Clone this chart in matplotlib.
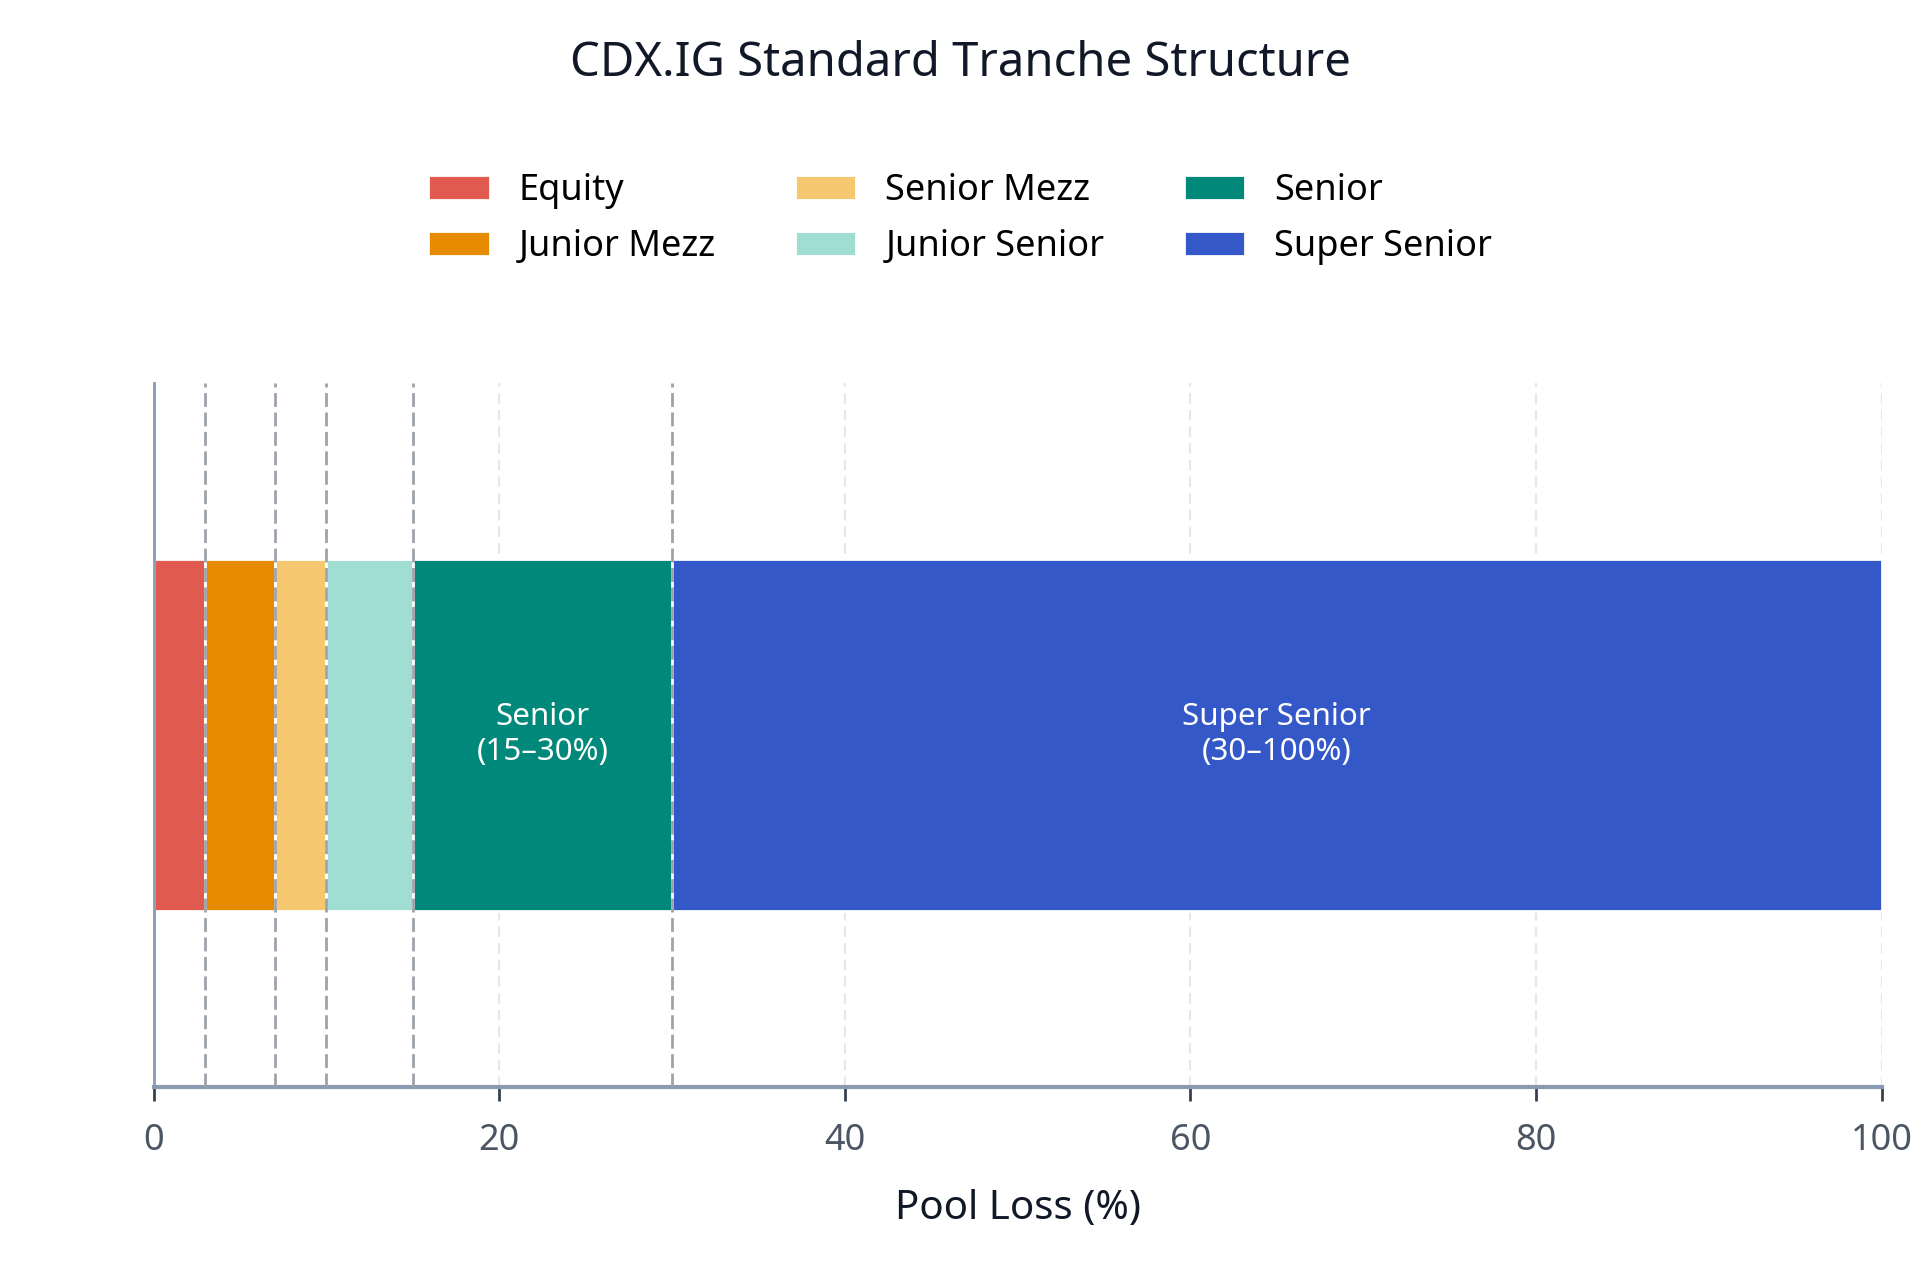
import matplotlib
matplotlib.use("Agg")
import matplotlib.pyplot as plt

# tranche data (attachment / detachment in % of pool loss)
tranches = ["Equity", "Junior Mezz", "Senior Mezz", "Junior Senior", "Senior", "Super Senior"]
attach = [0, 3, 7, 10, 15, 30]
detach = [3, 7, 10, 15, 30, 100]
colors = ["#E05A50", "#E68A00", "#F5C870", "#A0DDD2", "#00897A", "#3558C8"]
boundaries = [3, 7, 10, 15, 30]
labelled = {"Senior": "Senior\n(15\u201330%)", "Super Senior": "Super Senior\n(30\u2013100%)"}
xticks = [0, 20, 40, 60, 80, 100]

plt.rcParams["font.family"] = ["Noto Sans", "DejaVu Sans"]

fig = plt.figure(figsize=(19.2, 12.8), dpi=100)
ax = fig.add_axes([0.080, 0.151, 0.900, 0.550])

for name, a, d, c in zip(tranches, attach, detach, colors):
    ax.barh(0, d - a, left=a, height=0.5, color=c, edgecolor="white",
            linewidth=2, label=name, zorder=2)
    if name in labelled:
        ax.text((a + d) / 2, 0, labelled[name], ha="center", va="center",
                color="white", fontsize=22.5, linespacing=1.22, zorder=4)

for b in boundaries:
    ax.axvline(b, color="#9EA2AA", linestyle=(0, (5, 2)), linewidth=2, zorder=3)

ax.set_xlim(0, 100)
ax.set_ylim(-0.5, 0.5)
ax.set_yticks([])
ax.set_xticks(xticks)
ax.xaxis.grid(True, color="#E5E7EB", linestyle=(0, (5, 3)), linewidth=1.5, zorder=0)
ax.set_axisbelow(True)

for s in ["top", "right"]:
    ax.spines[s].set_visible(False)
ax.spines["left"].set_color("#8A9AB3")
ax.spines["left"].set_linewidth(2)
ax.spines["bottom"].set_color("#8A9AB3")
ax.spines["bottom"].set_linewidth(3)
ax.tick_params(axis="x", colors="#374151", length=10, width=2, pad=16,
               labelsize=26, labelcolor="#4B5563")

ax.set_xlabel("Pool Loss (%)", fontsize=29, color="#111827", labelpad=22)
fig.text(0.5, 0.950, "CDX.IG Standard Tranche Structure", fontsize=34,
         color="#111827", ha="center", va="center")

fig.legend(loc="center", bbox_to_anchor=(0.5, 0.829), ncol=3, frameon=False,
           fontsize=26, handlelength=1.7, handleheight=0.7, columnspacing=2.2,
           labelspacing=0.55, handletextpad=0.8)

fig.savefig("out.png", dpi=100, facecolor="white")
